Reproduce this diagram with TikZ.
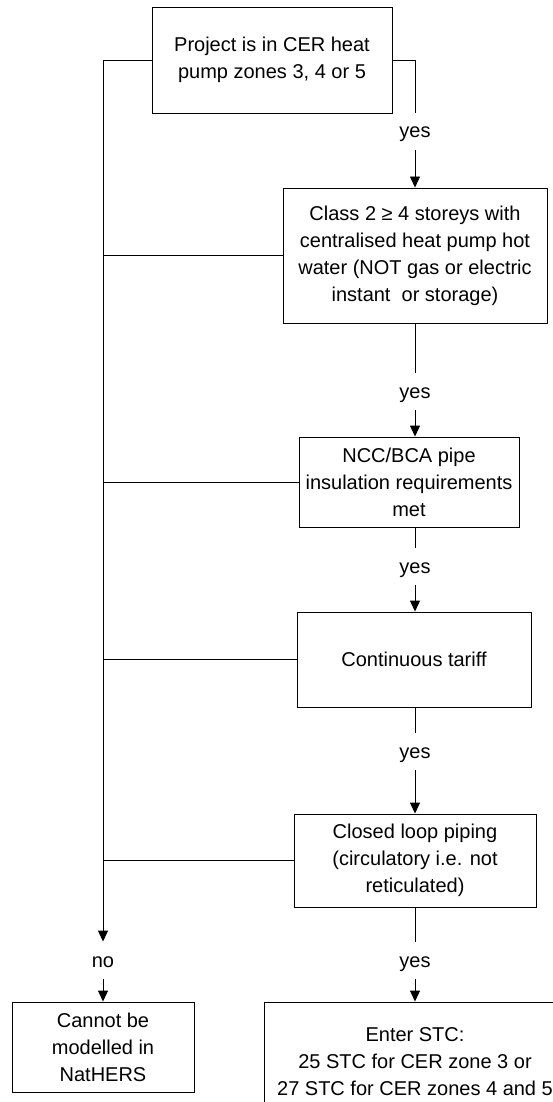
\documentclass[tikz,border=0pt]{standalone}
\usepackage{fontspec}
\setmainfont{Liberation Sans}
\usetikzlibrary{arrows.meta}

\begin{document}
\begin{tikzpicture}[x=1pt, y=-1pt, line width=0.9pt,
    box/.style={draw, align=center, inner sep=0pt, font=\fontsize{20}{27}\selectfont},
    lbl/.style={anchor=base, inner xsep=2pt, inner ysep=2pt, text height=23pt, text depth=10pt, font=\fontsize{20}{24}\selectfont},
    >={Triangle[width=10pt, length=11pt]}]
    \clip (0,0) rectangle (553,1102);
    \node[box, minimum width=240pt, minimum height=106pt] (zone) at (272,60) {Project is in CER heat\\pump zones 3, 4 or 5};
    \node[box, minimum width=264pt, minimum height=135pt] (class) at (415,255.5) {Class 2 ≥ 4 storeys with\\centralised heat pump hot\\water (NOT gas or electric\\instant~ or storage)};
    \node[box, minimum width=220pt, minimum height=90pt] (pipe) at (409,482) {NCC/BCA pipe\\insulation requirements\\met};
    \node[box, minimum width=234pt, minimum height=95pt] (tariff) at (414,659.5) {Continuous tariff};
    \node[box, minimum width=242pt, minimum height=93pt] (loop) at (415,860.5) {Closed loop piping\\(circulatory i.e. not\\reticulated)};
    \node[box, minimum width=182pt, minimum height=90pt] (cannot) at (103,1047) {Cannot be\\modelled in\\NatHERS};
    \node[box, minimum width=302pt, minimum height=120pt] (stc) at (415,1062) {Enter STC:\\25 STC for CER zone 3 or\\27 STC for CER zones 4 and 5};
    \node[lbl] (yes1) at (415,138) {yes};
    \node[lbl] (yes2) at (415,398) {yes};
    \node[lbl] (yes3) at (415,573) {yes};
    \node[lbl] (yes4) at (415,758) {yes};
    \node[lbl] (yes5) at (415,967) {yes};
    \node[lbl] (no) at (103,967) {no};
    % yes path
    \draw (zone.east) -| (yes1.north);
    \draw[->] (yes1.south) -- (class.north);
    \draw (class.south) -- (yes2.north);
    \draw[->] (yes2.south) -- (yes2.south |- pipe.north);
    \draw (pipe.south -| yes3.north) -- (yes3.north);
    \draw[->] (yes3.south) -- (yes3.south |- tariff.north);
    \draw (tariff.south -| yes4.north) -- (yes4.north);
    \draw[->] (yes4.south) -- (yes4.south |- loop.north);
    \draw (loop.south) -- (yes5.north);
    \draw[->] (yes5.south) -- (stc.north);
    % no path
    \draw[->] (zone.west) -| (no.north);
    \draw (class.west) -- (class.west -| no.north);
    \draw (pipe.west) -- (pipe.west -| no.north);
    \draw (tariff.west) -- (tariff.west -| no.north);
    \draw (loop.west) -- (loop.west -| no.north);
    \draw[->] (no.south) -- (cannot.north);
\end{tikzpicture}
\end{document}
